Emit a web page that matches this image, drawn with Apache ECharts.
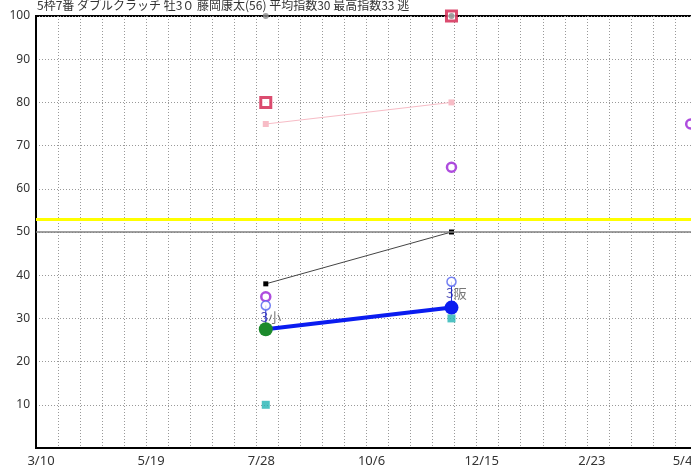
<!DOCTYPE html>
<html><head><meta charset="utf-8">
<script src="https://cdn.jsdelivr.net/npm/echarts@6/dist/echarts.min.js"></script>
<style>html,body{margin:0;padding:0;background:#fff}#c{width:691px;height:474px}</style>
</head><body><div id="c"></div>
<script>
const titleText = '5枠7番 ダブルクラッチ 牡3０ 藤岡康太(56) 平均指数30 最高指数33 逃';
const dateLabels = ['3/10','5/19','7/28','10/6','12/15','2/23','5/4'];
const raceDays = [146, 264, 416];
const redIdx = [80, 100, null];
const pinkIdx = [75, 80, null];
const purpleIdx = [35, 65, 75];
const blackIdx = [38, 50, null];
const mainIdx = [27.5, 32.5, null];
const upperIdx = [33, 38.5, null];
const tealIdx = [10, 30, null];
const grayIdx = [100, 100, null];
const venueNum = ['3', '3'];
const venueName = ['小', '阪'];
const refAvg = 50;
const refLine = 53;
const mainColors = ['#1c8a2c', '#0a1cf0'];

function pts(arr){ return arr.map((v,i)=> v==null? null : [raceDays[i], v]).filter(p=>p); }

const series = [
  {type:'line', data:pts(pinkIdx), symbol:'rect', symbolSize:6, lineStyle:{color:'#f7bcc6', width:1}, itemStyle:{color:'#f7bcc6'}, z:2, clip:false},
  {type:'line', data:pts(blackIdx), symbol:'rect', symbolSize:5, lineStyle:{color:'#444', width:1}, itemStyle:{color:'#000'}, z:3, clip:false,
    markLine:{silent:true, symbol:'none', label:{show:false}, data:[
      {yAxis:refAvg, lineStyle:{color:'#808080', width:1.5, type:'solid'}},
      {yAxis:refLine, lineStyle:{color:'#ffff00', width:3, type:'solid'}}
    ]}},
  {type:'scatter', data:pts(redIdx), symbol:'rect', symbolSize:10, itemStyle:{color:'#fff', borderColor:'#d21f4b', borderWidth:3}, z:4, clip:false},
  {type:'scatter', data:pts(grayIdx), symbol:'circle', symbolSize:6, itemStyle:{color:'#8a8a8a'}, z:5, clip:false},
  {type:'scatter', data:pts(purpleIdx), symbol:'circle', symbolSize:9, itemStyle:{color:'#fff', borderColor:'#9a1fd6', borderWidth:2.5}, z:4, clip:false},
  {type:'scatter', data:pts(tealIdx), symbol:'rect', symbolSize:8, itemStyle:{color:'#22b4b4'}, z:4, clip:false}
];
raceDays.forEach((d,i)=>{
  if (upperIdx[i]==null || mainIdx[i]==null) return;
  series.push({type:'line', data:[[d, upperIdx[i]],[d, mainIdx[i]]], symbol:'none', lineStyle:{color:'#2030e0', width:1}, z:5, silent:true});
});
series.push({type:'scatter', data:pts(upperIdx).map((p,i)=>({value:p, label:{show:true, position:'bottom', offset:[5,-6],
    formatter:'{a|'+venueNum[i]+'}{b|'+venueName[i]+'}',
    rich:{a:{color:'#2828a8', fontSize:14, fontFamily:'Noto Sans CJK JP'}, b:{color:'#555', fontSize:13, fontFamily:'Noto Sans CJK JP'}}}})),
  symbol:'circle', symbolSize:9, itemStyle:{color:'#fff', borderColor:'#5060f0', borderWidth:1.5}, z:6, clip:false});
series.push({type:'line', data:pts(mainIdx).map((p,i)=>({value:p, itemStyle:{color:mainColors[i]}})), symbol:'circle', symbolSize:14,
  lineStyle:{color:'#0a1cf0', width:4}, z:7, clip:false});

const chart = echarts.init(document.getElementById('c'), null, {renderer:'canvas'});
chart.setOption({
  animation:false,
  backgroundColor:'#fff',
  title:{text:titleText, left:32, top:-6, textStyle:{fontSize:12, fontWeight:'normal', color:'#333', fontFamily:'Noto Sans CJK JP'}},
  grid:{left:36, top:16, right:-6, bottom:26, outerBoundsMode:'none', containLabel:false, show:true, borderColor:'#000', borderWidth:2, backgroundColor:'transparent'},
  xAxis:{type:'value', min:0, max:420, interval:14,
    axisLine:{show:true, lineStyle:{color:'#000', width:2}}, axisTick:{show:false},
    splitLine:{show:true, lineStyle:{color:'#999', width:1, type:[1,2]}},
    axisLabel:{color:'#333', fontSize:13, margin:7, padding:[0,0,0,10], fontFamily:'Noto Sans', showMaxLabel:true, hideOverlap:false,
      formatter:v=> {
        if (v%70!==0) return '';
        const k = Math.round(v/70);
        return k === dateLabels.length-1 ? dateLabels[k] + '\u2003\u2003\u2003' : dateLabels[k];
      }}},
  yAxis:{type:'value', min:0, max:100, interval:10,
    axisLine:{show:true, lineStyle:{color:'#000', width:2}}, axisTick:{show:false},
    splitLine:{show:true, lineStyle:{color:'#999', width:1, type:[1,2]}},
    axisLabel:{color:'#333', fontSize:12, margin:6, fontFamily:'Noto Sans', formatter:v=> v===0 ? '' : String(v)}},
  series:series
});
</script></body></html>
